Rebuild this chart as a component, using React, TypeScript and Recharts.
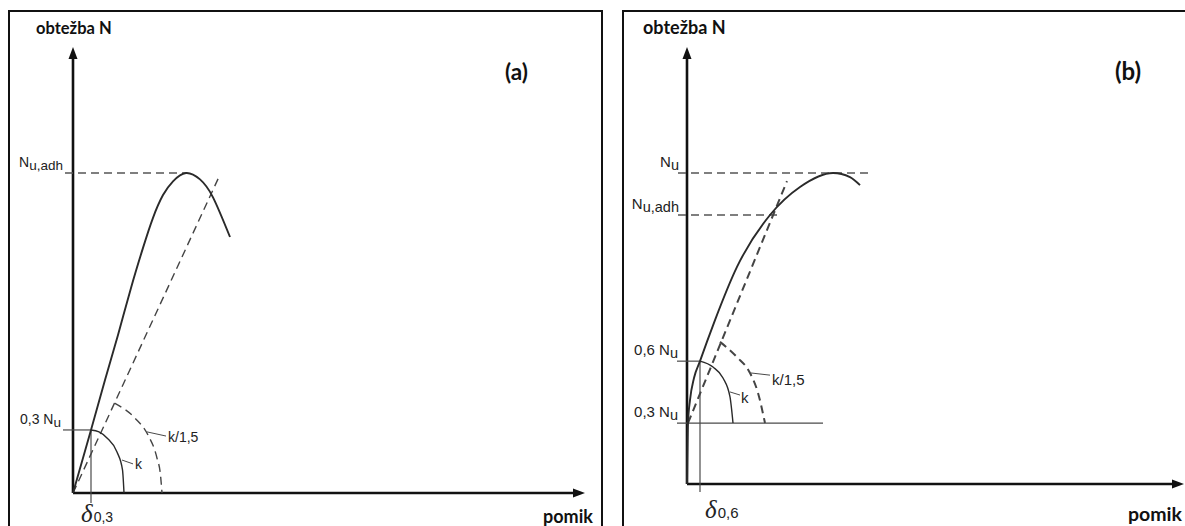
import React from 'react'
import {
  ComposedChart,
  Line,
  XAxis,
  YAxis,
  ReferenceLine,
  ReferenceDot,
} from 'recharts'

type Pt = { x: number; y: number }

interface Level {
  y: number
  x0: number
  x1: number
  name: string
  sub: string
}

// ---- panel (a): load scaled so that N_u,adh = 100, displacement in arbitrary units
const curveA: Pt[] = [
  { x: 0, y: 0 },
  { x: 3.6, y: 19.7 },
  { x: 6.4, y: 35.3 },
  { x: 9.0, y: 49.4 },
  { x: 11.6, y: 64.1 },
  { x: 14.0, y: 76.6 },
  { x: 16.0, y: 86.0 },
  { x: 18.0, y: 93.1 },
  { x: 20.0, y: 97.4 },
  { x: 22.6, y: 100 },
  { x: 25.4, y: 98.0 },
  { x: 28.0, y: 92.4 },
  { x: 31.4, y: 80.0 },
]
const secantA: Pt[] = [
  { x: 0, y: 0 },
  { x: 29.2, y: 98.8 },
]
const arcKA: Pt[] = [
  { x: 3.6, y: 19.7 },
  { x: 5.2, y: 19.1 },
  { x: 6.8, y: 17.2 },
  { x: 8.8, y: 12.8 },
  { x: 9.9, y: 7.2 },
  { x: 10.2, y: 0 },
]
const arcK15A: Pt[] = [
  { x: 8.3, y: 28.1 },
  { x: 12.4, y: 23.4 },
  { x: 15.0, y: 18.1 },
  { x: 16.8, y: 10.9 },
  { x: 17.5, y: 5.6 },
  { x: 17.8, y: 0 },
]
const dashedLevelsA: Level[] = [
  { y: 100, x0: -1.6, x1: 22.6, name: 'N', sub: 'u,adh' },
]
const solidLevelsA: Level[] = [
  { y: 19.7, x0: -2, x1: 3.6, name: '0,3 N', sub: 'u' },
]
const deltaA = { x: 3.6, y0: 19.7, y1: -3.1, sub: '0,3' }
const leaderKA: Pt[] = [
  { x: 9.8, y: 10.3 },
  { x: 12.0, y: 9.1 },
]
const leaderK15A: Pt[] = [
  { x: 14.8, y: 19.1 },
  { x: 18.6, y: 17.8 },
]

// ---- panel (b): load scaled so that N_u = 100
const curveB: Pt[] = [
  { x: 0, y: 0 },
  { x: 0.2, y: 19.6 },
  { x: 0.6, y: 27.0 },
  { x: 1.4, y: 34.1 },
  { x: 2.6, y: 39.5 },
  { x: 4.0, y: 45.8 },
  { x: 5.6, y: 52.7 },
  { x: 10.0, y: 69.8 },
  { x: 16.6, y: 86.5 },
  { x: 22.6, y: 95.5 },
  { x: 29.2, y: 100 },
  { x: 32.6, y: 98.7 },
  { x: 34.6, y: 96.1 },
]
const secantB: Pt[] = [
  { x: 0.2, y: 19.6 },
  { x: 20, y: 97.4 },
]
const arcKB: Pt[] = [
  { x: 2.6, y: 39.5 },
  { x: 5.2, y: 37.6 },
  { x: 7.2, y: 34.1 },
  { x: 8.6, y: 28.0 },
  { x: 9.2, y: 19.6 },
]
const arcK15B: Pt[] = [
  { x: 6.6, y: 45.7 },
  { x: 10.0, y: 40.8 },
  { x: 12.6, y: 35.7 },
  { x: 14.2, y: 29.3 },
  { x: 15.6, y: 19.6 },
]
const dashedLevelsB: Level[] = [
  { y: 100, x0: -1.8, x1: 37, name: 'N', sub: 'u' },
  { y: 86.5, x0: -1.8, x1: 18.2, name: 'N', sub: 'u,adh' },
]
const solidLevelsB: Level[] = [
  { y: 39.5, x0: -2, x1: 2.6, name: '0,6 N', sub: 'u' },
  { y: 19.6, x0: -2, x1: 27.2, name: '0,3 N', sub: 'u' },
]
const deltaB = { x: 2.6, y0: 39.5, y1: -2.6, sub: '0,6' }
const leaderKB: Pt[] = [
  { x: 8.6, y: 29.6 },
  { x: 10.6, y: 28.6 },
]
const leaderK15B: Pt[] = [
  { x: 12.8, y: 35.7 },
  { x: 16.6, y: 35.0 },
]

const SANS = '"Liberation Sans", Arial, sans-serif'
const BOLD = 'Lato, "Liberation Sans", sans-serif'

interface PanelProps {
  left: number
  top: number
  width: number
  height: number
  ox: number
  oy: number
  sx: number
  sy: number
  xEnd: number
  yEnd: number
  curve: Pt[]
  curveType: 'natural' | 'monotone'
  secant: Pt[]
  arcK: Pt[]
  arcK15: Pt[]
  dashedLevels: Level[]
  solidLevels: Level[]
  delta: { x: number; y0: number; y1: number; sub: string }
  leaderK: Pt[]
  leaderK15: Pt[]
  kAt: Pt
  k15At: Pt
  fs: number
  labelDx: number
  titleSize: number
  titleDx: number
  pomikDx: number
  pomikDy: number
  tag: string
  tagDx: number
  deltaDx: number
  deltaDy: number
  heavy: number
}

const textAt = (dx: number, dy: number, node: (cx: number, cy: number) => React.ReactElement) =>
  (p: any) => node(p.cx + dx, p.cy + dy)

function Panel(p: PanelProps) {
  const xDomain = [-p.ox / p.sx, (p.width - p.ox) / p.sx]
  const yDomain = [-(p.height - p.oy) / p.sy, p.oy / p.sy]
  const thin = '#4a4a4a'
  const line = '#2a2a2a'
  return (
    <div style={{ position: 'absolute', left: p.left, top: p.top }}>
      <ComposedChart
        width={p.width}
        height={p.height}
        margin={{ top: 0, right: 0, bottom: 0, left: 0 }}
      >
        <XAxis type="number" dataKey="x" domain={xDomain} allowDataOverflow hide />
        <YAxis type="number" dataKey="y" domain={yDomain} allowDataOverflow hide />

        {/* axes */}
        <ReferenceLine segment={[{ x: 0, y: 0 }, { x: p.xEnd - 2, y: 0 }]} stroke="#111" strokeWidth={2.6} />
        <ReferenceLine segment={[{ x: 0, y: 0 }, { x: 0, y: p.yEnd - 3 }]} stroke="#111" strokeWidth={2.6} />
        <ReferenceDot
          x={p.xEnd}
          y={0}
          r={0}
          shape={(s: any) => (
            <polygon
              points={`${s.cx},${s.cy} ${s.cx - 12},${s.cy - 4.5} ${s.cx - 12},${s.cy + 4.5}`}
              fill="#111"
            />
          )}
        />
        <ReferenceDot
          x={0}
          y={p.yEnd}
          r={0}
          shape={(s: any) => (
            <polygon
              points={`${s.cx},${s.cy} ${s.cx - 4.5},${s.cy + 12} ${s.cx + 4.5},${s.cy + 12}`}
              fill="#111"
            />
          )}
        />

        {/* level lines */}
        {p.dashedLevels.map((l, i) => (
          <ReferenceLine
            key={'d' + i}
            segment={[{ x: l.x0, y: l.y }, { x: l.x1, y: l.y }]}
            stroke="#555"
            strokeWidth={1.4}
            strokeDasharray="8 5"
          />
        ))}
        {p.solidLevels.map((l, i) => (
          <ReferenceLine
            key={'s' + i}
            segment={[{ x: l.x0, y: l.y }, { x: l.x1, y: l.y }]}
            stroke={thin}
            strokeWidth={1.2}
          />
        ))}
        <ReferenceLine
          segment={[{ x: p.delta.x, y: p.delta.y0 }, { x: p.delta.x, y: p.delta.y1 }]}
          stroke={thin}
          strokeWidth={1.2}
        />
        <ReferenceLine segment={[p.leaderK[0], p.leaderK[1]]} stroke={thin} strokeWidth={1} />
        <ReferenceLine segment={[p.leaderK15[0], p.leaderK15[1]]} stroke={thin} strokeWidth={1} />

        {/* curves */}
        <Line data={p.secant} dataKey="y" type="linear" dot={false} stroke="#444" strokeWidth={p.heavy} strokeDasharray="8 5" isAnimationActive={false} />
        <Line data={p.arcK15} dataKey="y" type="monotone" dot={false} stroke="#444" strokeWidth={p.heavy} strokeDasharray="8 5" isAnimationActive={false} />
        <Line data={p.arcK} dataKey="y" type="monotone" dot={false} stroke={line} strokeWidth={1.4} isAnimationActive={false} />
        <Line data={p.curve} dataKey="y" type={p.curveType} dot={false} stroke={line} strokeWidth={1.9} isAnimationActive={false} />

        {/* level labels */}
        {[...p.dashedLevels, ...p.solidLevels].map((l, i) => (
          <ReferenceDot
            key={'t' + i}
            x={l.x0}
            y={l.y}
            r={0}
            shape={textAt(p.labelDx, -6, (x, y) => (
              <text x={x} y={y} textAnchor="end" fontFamily={SANS} fontSize={p.fs} fill="#222">
                {l.name}
                <tspan fontSize={p.fs - 0.5} dy={3}>{l.sub}</tspan>
              </text>
            ))}
          />
        ))}

        {/* k labels */}
        <ReferenceDot
          x={p.kAt.x}
          y={p.kAt.y}
          r={0}
          shape={textAt(0, 0, (x, y) => (
            <text x={x} y={y} fontFamily={SANS} fontSize={p.fs} fill="#222">k</text>
          ))}
        />
        <ReferenceDot
          x={p.k15At.x}
          y={p.k15At.y}
          r={0}
          shape={textAt(0, 0, (x, y) => (
            <text x={x} y={y} fontFamily={SANS} fontSize={p.fs} fill="#222">k/1,5</text>
          ))}
        />

        {/* delta label */}
        <ReferenceDot
          x={p.delta.x}
          y={0}
          r={0}
          shape={textAt(p.deltaDx, p.deltaDy, (x, y) => (
            <text x={x} y={y} fill="#222">
              <tspan fontFamily='"Liberation Serif", serif' fontStyle="italic" fontSize={25}>δ</tspan>
              <tspan fontFamily={SANS} fontSize={p.fs} dx={1}>{p.delta.sub}</tspan>
            </text>
          ))}
        />

        {/* axis titles and panel tag */}
        <ReferenceDot
          x={0}
          y={p.yEnd}
          r={0}
          shape={textAt(p.titleDx, -13, (x, y) => (
            <text x={x} y={y} fontFamily={BOLD} fontWeight="bold" fontSize={p.titleSize} fill="#111">
              obtežba N
            </text>
          ))}
        />
        <ReferenceDot
          x={0}
          y={p.yEnd}
          r={0}
          shape={textAt(p.tagDx, 33, (x, y) => (
            <text x={x} y={y} fontFamily={BOLD} fontWeight="bold" fontSize={p.titleSize + 6} fill="#111">
              {p.tag}
            </text>
          ))}
        />
        <ReferenceDot
          x={p.xEnd}
          y={0}
          r={0}
          shape={textAt(p.pomikDx, p.pomikDy, (x, y) => (
            <text x={x} y={y} fontFamily={BOLD} fontWeight="bold" fontSize={p.titleSize + 1.5} fill="#111">
              pomik
            </text>
          ))}
        />
      </ComposedChart>
    </div>
  )
}

export default function App() {
  return (
    <div
      style={{
        position: 'absolute',
        left: 0,
        top: 0,
        width: 1185,
        height: 526,
        background: '#fff',
        overflow: 'hidden',
      }}
    >
      <div style={{ position: 'absolute', left: 8, top: 10, width: 591, height: 600, border: '2px solid #111' }} />
      <div style={{ position: 'absolute', left: 622, top: 10, width: 700, height: 600, border: '2px solid #111' }} />
      <Panel
        left={10}
        top={12}
        width={590}
        height={514}
        ox={63}
        oy={481}
        sx={5}
        sy={3.2}
        xEnd={102.4}
        yEnd={139.4}
        curve={curveA}
        curveType="natural"
        secant={secantA}
        arcK={arcKA}
        arcK15={arcK15A}
        dashedLevels={dashedLevelsA}
        solidLevels={solidLevelsA}
        delta={deltaA}
        leaderK={leaderKA}
        leaderK15={leaderK15A}
        kAt={{ x: 12.4, y: 7.5 }}
        k15At={{ x: 19, y: 15.9 }}
        fs={14}
        labelDx={-2}
        titleSize={16.5}
        titleDx={-37}
        pomikDx={-42}
        pomikDy={30}
        tag="(a)"
        tagDx={432}
        deltaDx={-10}
        deltaDy={29}
        heavy={1.4}
      />
      <Panel
        left={624}
        top={12}
        width={561}
        height={514}
        ox={63}
        oy={472}
        sx={5}
        sy={3.11}
        xEnd={99.4}
        yEnd={140.5}
        curve={curveB}
        curveType="monotone"
        secant={secantB}
        arcK={arcKB}
        arcK15={arcK15B}
        dashedLevels={dashedLevelsB}
        solidLevels={solidLevelsB}
        delta={deltaB}
        leaderK={leaderKB}
        leaderK15={leaderK15B}
        kAt={{ x: 10.8, y: 26.0 }}
        k15At={{ x: 17, y: 31.8 }}
        fs={15}
        labelDx={1}
        titleSize={18}
        titleDx={-44}
        pomikDx={-56}
        pomikDy={37}
        tag="(b)"
        tagDx={428}
        deltaDx={5}
        deltaDy={34}
        heavy={2}
      />
    </div>
  )
}
